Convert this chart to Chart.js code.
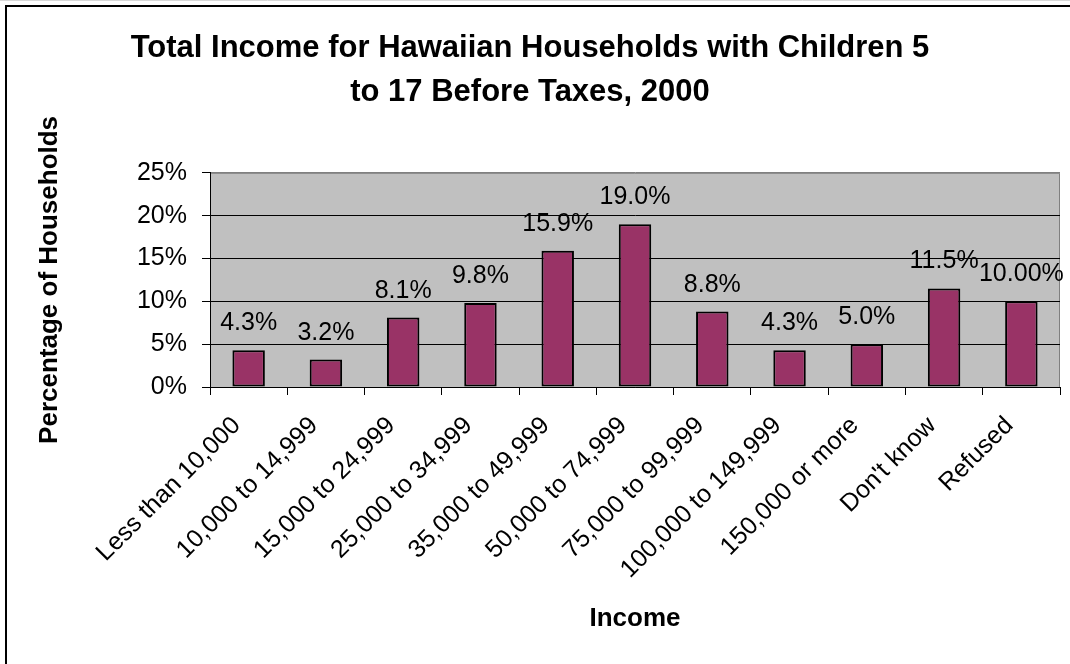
<!DOCTYPE html>
<html>
<head>
<meta charset="utf-8">
<title>Total Income for Hawaiian Households</title>
<script src="https://cdn.jsdelivr.net/npm/chart.js@4"></script>
<style>
  html, body { margin: 0; padding: 0; background: #fff; }
  #wrap { width: 1070px; height: 664px; }
</style>
</head>
<body>
<div id="wrap"><canvas id="incomeChart" width="1070" height="664"></canvas></div>
<script>
// data
const incomeGroups = ['Less than 10,000', '10,000 to 14,999', '15,000 to 24,999', '25,000 to 34,999',
  '35,000 to 49,999', '50,000 to 74,999', '75,000 to 99,999', '100,000 to 149,999',
  '150,000 or more', "Don't know", 'Refused'];
const householdPct = [4.3, 3.2, 8.1, 9.8, 15.9, 19.0, 8.8, 4.3, 5.0, 11.5, 10.0];
const barLabels = ['4.3%', '3.2%', '8.1%', '9.8%', '15.9%', '19.0%', '8.8%', '4.3%', '5.0%', '11.5%', '10.00%'];
const yTicks = [0, 5, 10, 15, 20, 25];

const fontFamily = 'Arial, "Liberation Sans", sans-serif';

// gray plot area, plot border and the outer frame
const plotBackground = {
  id: 'plotBackground',
  beforeDraw(chart) {
    const { ctx, chartArea: a } = chart;
    ctx.save();
    ctx.fillStyle = '#C0C0C0';
    ctx.fillRect(a.left, a.top, a.right - a.left, a.bottom - a.top);
    ctx.strokeStyle = '#808080';
    ctx.lineWidth = 1;
    ctx.beginPath();
    ctx.moveTo(a.left, a.top + 0.5);
    ctx.lineTo(a.right - 0.5, a.top + 0.5);
    ctx.lineTo(a.right - 0.5, a.bottom);
    ctx.stroke();
    // frame
    ctx.strokeStyle = '#000';
    ctx.lineWidth = 2;
    ctx.beginPath();
    ctx.moveTo(6, chart.height);
    ctx.lineTo(6, 6);
    ctx.lineTo(chart.width, 6);
    ctx.stroke();
    ctx.strokeStyle = '#d8d8d8';
    ctx.lineWidth = 1;
    ctx.beginPath();
    ctx.moveTo(0, 0.5);
    ctx.lineTo(chart.width, 0.5);
    ctx.stroke();
    ctx.restore();
  }
};

// value labels above each bar
const barValueLabels = {
  id: 'barValueLabels',
  afterDatasetsDraw(chart) {
    const { ctx } = chart;
    const bars = chart.getDatasetMeta(0).data;
    ctx.save();
    ctx.font = '25px ' + fontFamily;
    ctx.fillStyle = '#000';
    ctx.textAlign = 'center';
    ctx.textBaseline = 'alphabetic';
    bars.forEach((bar, i) => {
      ctx.fillText(barLabels[i], bar.x, bar.y - 20);
    });
    ctx.restore();
  }
};

const chartCanvas = document.querySelector('#incomeChart');

new Chart(chartCanvas, {
  type: 'bar',
  data: {
    labels: incomeGroups,
    datasets: [{
      data: householdPct,
      backgroundColor: '#993366',
      borderColor: '#000',
      borderWidth: 2,
      borderSkipped: false,
      categoryPercentage: 1,
      barPercentage: 0.42
    }]
  },
  options: {
    responsive: false,
    animation: false,
    layout: { padding: { left: 0, right: 10, top: 0, bottom: 0 } },
    scales: {
      y: {
        min: 0,
        max: 25,
        afterBuildTicks: (scale) => { scale.ticks = yTicks.map(v => ({ value: v })); },
        afterFit: (scale) => { scale.width = 210; },
        ticks: {
          callback: (v) => v + '%',
          color: '#000',
          padding: 15,
          font: { family: fontFamily, size: 25 }
        },
        grid: {
          color: (c) => (c.tick && c.tick.value === 25 ? '#808080' : '#000'),
          lineWidth: 1,
          tickLength: 8,
          tickColor: '#000'
        },
        border: { display: true, color: '#000', width: 1 },
        title: {
          display: true,
          text: 'Percentage of Households',
          color: '#000',
          font: { family: fontFamily, size: 26, weight: 'bold' },
          padding: { top: 34, bottom: 0 }
        }
      },
      x: {
        afterFit: (scale) => { scale.height = 664 - 387; },
        ticks: {
          autoSkip: false,
          minRotation: 45,
          maxRotation: 45,
          color: '#000',
          padding: 16,
          labelOffset: -12,
          font: { family: fontFamily, size: 25 }
        },
        grid: { drawOnChartArea: false, drawTicks: true, tickLength: 8, tickColor: '#000', offset: true },
        border: { display: true, color: '#000', width: 1 },
        title: {
          display: true,
          text: 'Income',
          color: '#000',
          font: { family: fontFamily, size: 26, weight: 'bold' },
          padding: { top: 4, bottom: 30 }
        }
      }
    },
    plugins: {
      legend: { display: false },
      tooltip: { enabled: false },
      title: {
        display: true,
        text: ['Total Income for Hawaiian Households with Children 5', 'to 17 Before Taxes, 2000'],
        color: '#000',
        font: { family: fontFamily, size: 31, weight: 'bold', lineHeight: 1.4 },
        padding: { top: 27, bottom: 59 }
      }
    }
  },
  plugins: [plotBackground, barValueLabels]
});
</script>
</body>
</html>
